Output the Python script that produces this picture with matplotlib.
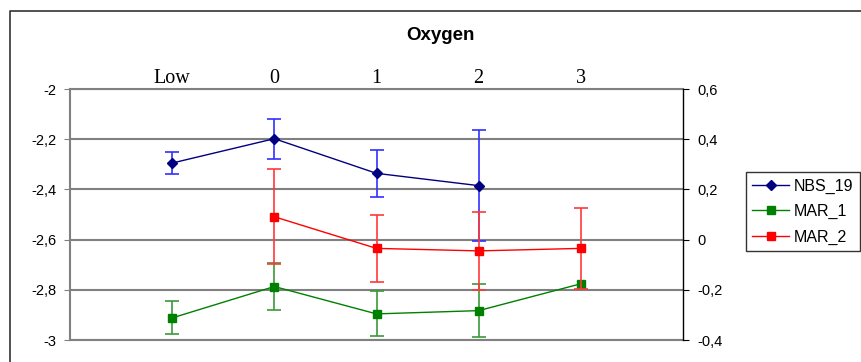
import numpy as np
from matplotlib import pyplot as plt
from matplotlib.lines import Line2D
from matplotlib.ticker import FuncFormatter, MultipleLocator

# data
categories = ['Low', '0', '1', '2', '3']
pos = np.arange(1, 6)

nbs19 = [-2.295, -2.198, -2.336, -2.385, np.nan]
nbs19_err = [0.045, 0.08, 0.093, 0.22, np.nan]

mar1 = [-2.912, -2.787, -2.896, -2.883, -2.776]
mar1_err = [0.066, 0.092, 0.09, 0.105, np.nan]

# MAR_2 is on the secondary (right) axis
mar2 = [np.nan, 0.091, -0.035, -0.045, -0.035]
mar2_err = [np.nan, 0.19, 0.133, 0.155, 0.16]


def comma(v, p):
    return ('%g' % round(v, 2)).replace('.', ',')


fig = plt.figure(figsize=(8.61, 3.62), dpi=100)
ax = fig.add_axes([70 / 861, 1 - 340 / 362, 613 / 861, 251 / 362])
ax2 = ax.twinx()

# outer chart border (cropped on right and bottom)
fig.add_artist(Line2D([10 / 861, 10 / 861, 1], [0, 1 - 11 / 362, 1 - 11 / 362],
                      color='#333333', lw=1.2, transform=fig.transFigure))

ax.set_xlim(0, 6)
ax.set_ylim(-3, -2)
ax2.set_ylim(-0.4, 0.6)
ax.yaxis.set_major_locator(MultipleLocator(0.2))
ax2.yaxis.set_major_locator(MultipleLocator(0.2))
ax.yaxis.set_major_formatter(FuncFormatter(comma))
ax2.yaxis.set_major_formatter(FuncFormatter(comma))

ax.grid(axis='y', color='#808080', lw=1.5)
ax.set_axisbelow(True)

ax.errorbar(pos, nbs19, yerr=nbs19_err, color='#000080', marker='D', ms=5,
            lw=1, ecolor='#3030ff', elinewidth=1.2, capsize=5, capthick=1.2)
ax.errorbar(pos, mar1, yerr=mar1_err, color='#008000', marker='s', ms=6,
            lw=1, ecolor='#3a9a3a', elinewidth=1.2, capsize=5, capthick=1.2)
ax2.errorbar(pos, mar2, yerr=mar2_err, color='#ff0000', marker='s', ms=6,
             lw=1, ecolor='#ff3838', elinewidth=1.2, capsize=5, capthick=1.2)

ax.set_xticks(pos)
ax.set_xticklabels(categories, family='Liberation Serif', fontsize=14.5)
ax.xaxis.tick_top()
ax.tick_params(axis='x', length=0, pad=1)
ax.tick_params(axis='y', labelsize=10.5, length=4, color='#808080', pad=6,
               labelfontfamily='Liberation Sans')
ax2.tick_params(axis='y', labelsize=10.5, length=4, pad=6,
                labelfontfamily='Liberation Sans')

for s in ['left', 'bottom', 'top']:
    ax.spines[s].set_color('#808080')
    ax.spines[s].set_linewidth(1.5)
for s in ['left', 'bottom', 'top']:
    ax2.spines[s].set_visible(False)
ax.spines['right'].set_visible(False)
ax2.spines['right'].set_color('black')
ax2.spines['right'].set_linewidth(1)

fig.text(440 / 861, 1 - 35 / 362, 'Oxygen', ha='center', va='center',
         fontsize=13.5, fontweight='bold', family='Liberation Sans')

handles = [Line2D([], [], color='#000080', marker='D', ms=5, lw=1),
           Line2D([], [], color='#008000', marker='s', ms=6, lw=1),
           Line2D([], [], color='#ff0000', marker='s', ms=6, lw=1)]
labels = ['NBS_19', 'MAR_1', 'MAR_2']
leg = fig.legend(handles, labels, loc='upper left',
                 bbox_to_anchor=(746 / 861, 1 - 172 / 362),
                 frameon=True, fancybox=False, edgecolor='black',
                 prop={'family': 'Liberation Sans', 'size': 11.5},
                 handlelength=2.3, handletextpad=0.3, borderpad=0.4,
                 labelspacing=0.65, borderaxespad=0)
leg.get_frame().set_linewidth(1)

fig.savefig('out.png', dpi=100)
